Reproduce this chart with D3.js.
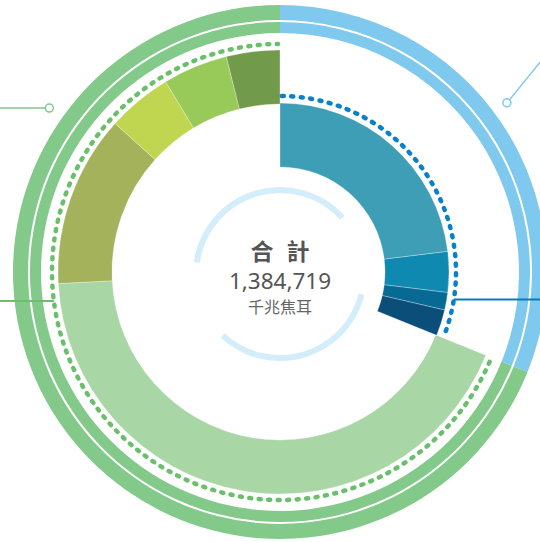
<!DOCTYPE html>
<html>
<head>
<meta charset="utf-8">
<script src="https://cdn.jsdelivr.net/npm/d3@7"></script>
<style>
  body { margin: 0; background: #fff; }
  svg { display: block; font-family: "Noto Sans", "Noto Sans CJK TC", sans-serif; }
</style>
</head>
<body>
<svg width="540" height="542"></svg>
<script>
// segment values, clockwise from 12 o'clock (千兆焦耳)
const blueNames = ["b1", "b2", "b3", "b4"];
const blueValues = [319255, 53850, 23079, 34618];
const blueColors = ["#3e9eb6", "#0f89b0", "#066a94", "#0c4e7a"];

const greenNames = ["g1", "g2", "g3", "g4", "g5"];
const greenValues = [596198, 173090, 65390, 65390, 53849];
const greenColors = ["#a8d6a5", "#a5b25c", "#c0d651", "#98ca5a", "#719a4a"];

const totalLabel = "合 計";
const totalValue = 1384719;
const unitLabel = "千兆焦耳";

const svg = d3.select("svg");
const cx = 280, cy = 272;
const g = svg.append("g").attr("transform", `translate(${cx},${cy})`);

const TAU = 2 * Math.PI;
const deg = (d) => d * Math.PI / 180;

const segs = blueValues.map((v, i) => ({ name: blueNames[i], value: v, color: blueColors[i], grp: "blue" }))
  .concat(greenValues.map((v, i) => ({ name: greenNames[i], value: v, color: greenColors[i], grp: "green" })));

const pie = d3.pie().sort(null).value((d) => d.value);
const arcs = pie(segs);

const blueSum = d3.sum(blueValues);
const total = d3.sum(segs, (d) => d.value);
const angle = d3.scaleLinear().domain([0, total]).range([0, TAU]);
const blueEnd = angle(blueSum);

// outer double band
const outer = [
  { grp: "blue", start: 0, end: blueEnd, color: "#7fc8ee" },
  { grp: "green", start: blueEnd, end: TAU, color: "#82c98a" }
];
[[252, 267], [239, 250]].forEach(([r0, r1]) => {
  g.append("g").selectAll("path")
    .data(outer)
    .join("path")
    .attr("fill", (d) => d.color)
    .attr("d", (d) => d3.arc().innerRadius(r0).outerRadius(r1)({ startAngle: d.start, endAngle: d.end }));
});

// inner segments
const blueArc = d3.arc().innerRadius(105).outerRadius(169);
const greenArc = d3.arc().innerRadius(168).outerRadius(222);
g.append("g").selectAll("path")
  .data(arcs)
  .join("path")
  .attr("fill", (d) => d.data.color)
  .attr("stroke", "#fff")
  .attr("stroke-opacity", 0.5)
  .attr("stroke-width", 0.6)
  .attr("d", (d) => (d.data.grp === "blue" ? blueArc : greenArc)(d));

// dotted guide rings
const dotted = [
  { r: 176, start: deg(0.6), end: blueEnd - deg(0.4), color: "#0a80c8" },
  { r: 228, start: blueEnd + deg(1.2), end: TAU - deg(0.5), color: "#6abf6a" }
];
g.append("g").selectAll("path")
  .data(dotted)
  .join("path")
  .attr("fill", "none")
  .attr("stroke", (d) => d.color)
  .attr("stroke-width", 4.5)
  .attr("stroke-linecap", "round")
  .attr("stroke-dasharray", "2 7.5")
  .attr("d", (d) => {
    const p = d3.path();
    p.arc(0, 0, d.r, d.start - Math.PI / 2, d.end - Math.PI / 2);
    return p.toString();
  });

// center light ring
const ringArc = d3.arc().innerRadius(81).outerRadius(87);
const ringParts = [[278, 408], [104, 223]];
g.append("g").attr("transform", "translate(0,2)").selectAll("path")
  .data(ringParts)
  .join("path")
  .attr("fill", "#d3eefa")
  .attr("d", (d) => ringArc({ startAngle: deg(d[0]), endAngle: deg(d[1]) }));

// leader lines
const polar = (r, a) => [r * Math.sin(deg(a)), -r * Math.cos(deg(a))];
const leaders = g.append("g");

const pr = polar(176, 99);
leaders.append("line").attr("x1", pr[0]).attr("y1", pr[1]).attr("x2", 540 - cx + 10).attr("y2", pr[1])
  .attr("stroke", "#0b7bbd").attr("stroke-width", 2);

const pl = polar(228, 262.7);
leaders.append("line").attr("x1", pl[0]).attr("y1", pl[1]).attr("x2", -cx - 10).attr("y2", pl[1])
  .attr("stroke", "#6cbf6c").attr("stroke-width", 2);

const ptl = polar(283, 305.4);
leaders.append("line").attr("x1", ptl[0] - 4).attr("y1", ptl[1]).attr("x2", -cx - 10).attr("y2", ptl[1])
  .attr("stroke", "#82c98a").attr("stroke-width", 1.5);
leaders.append("circle").attr("cx", ptl[0]).attr("cy", ptl[1]).attr("r", 4)
  .attr("fill", "#fff").attr("stroke", "#82c98a").attr("stroke-width", 1.5);

const ptr = polar(283, 53.3);
leaders.append("line").attr("x1", ptr[0] + 2.5).attr("y1", ptr[1] - 3)
  .attr("x2", ptr[0] + 2.5 + 62).attr("y2", ptr[1] - 3 - 76)
  .attr("stroke", "#7fc8ee").attr("stroke-width", 1.5);
leaders.append("circle").attr("cx", ptr[0]).attr("cy", ptr[1]).attr("r", 4)
  .attr("fill", "#fff").attr("stroke", "#7fc8ee").attr("stroke-width", 1.5);

// center text
const t = g.append("g").attr("text-anchor", "middle");
t.append("text").attr("x", 2).attr("y", -12.5).attr("font-size", 23).attr("font-weight", "bold")
  .attr("letter-spacing", 4)
  .attr("fill", "#555").attr("font-family", "'Noto Sans CJK TC', sans-serif")
  .text(totalLabel);
t.append("text").attr("y", 16.5).attr("font-size", 22.5).attr("fill", "#555")
  .text(d3.format(",")(totalValue));
t.append("text").attr("y", 41).attr("font-size", 16).attr("fill", "#666")
  .attr("font-family", "'Noto Sans CJK TC', sans-serif")
  .text(unitLabel);
</script>
</body>
</html>
